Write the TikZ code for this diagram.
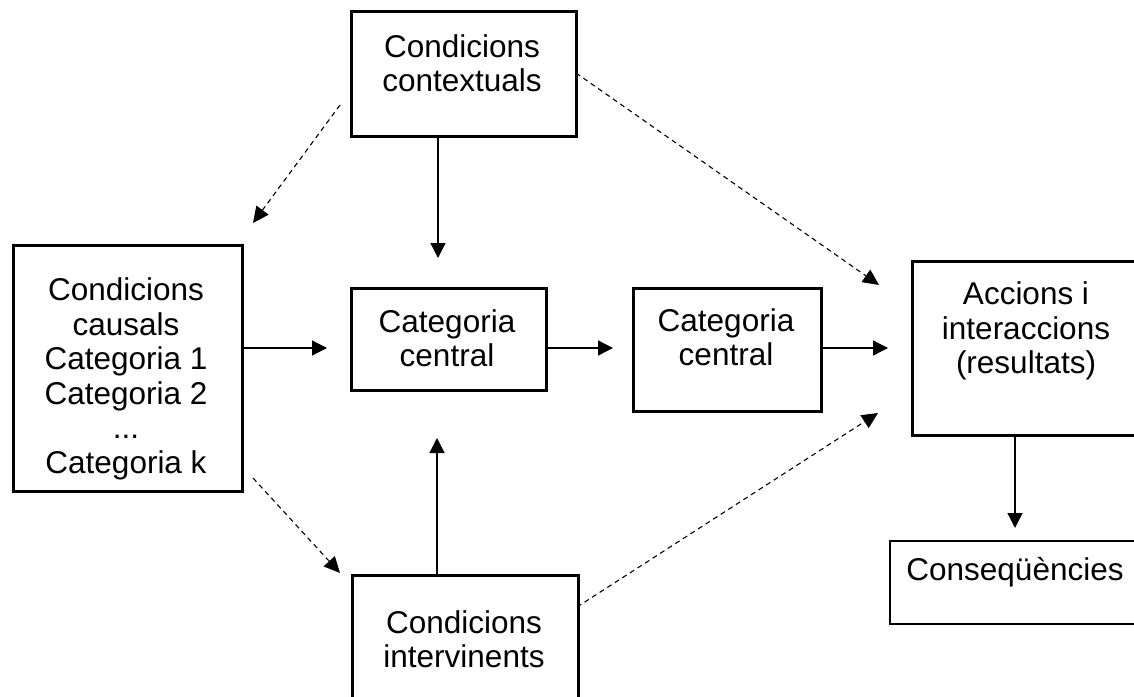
\documentclass[tikz,border=0pt]{standalone}
\usepackage{fontspec}
\setmainfont{Liberation Sans}
\usetikzlibrary{arrows.meta}
\begin{document}
\begin{tikzpicture}[x=1pt,y=-1pt,
  box/.style={draw, line width=2.6pt, inner sep=0pt, anchor=north west},
  thinbox/.style={draw, line width=1.6pt, inner sep=0pt, anchor=north west},
  lbl/.style={align=center, font=\fontsize{31.5}{34.5}\selectfont, inner sep=0pt},
  arr/.style={line width=1.3pt, -{Triangle[length=15pt,width=15pt]}},
  darr/.style={line width=1.1pt, dash pattern=on 5pt off 4pt, -{Triangle[length=16pt,width=15pt]}}]
\useasboundingbox (0,0) rectangle (1134,696);
\clip (0,0) rectangle (1134,696);

% boxes
\node[box, minimum width=225pt, minimum height=125pt] (ctx) at (350,10) {};
\node[box, minimum width=229pt, minimum height=246pt] (cau) at (12,244) {};
\node[box, minimum width=195pt, minimum height=102pt] (cc1) at (350,287) {};
\node[box, minimum width=188pt, minimum height=123pt] (cc2) at (632,287) {};
\node[box, minimum width=230pt, minimum height=174pt] (acc) at (911,260) {};
\node[thinbox, minimum width=252pt, minimum height=83pt] (con) at (889,540) {};
\node[box, minimum width=226pt, minimum height=150pt] (int) at (351,574) {};

% texts
\node[lbl] (tctx) at (462,63) {Condicions\\contextuals};
\node[lbl] (tcau) at (126,379) {Condicions\\causals\\Categoria 1\\Categoria 2\\...\\Categoria k};
\node[lbl] (tcc1) at (447,338) {Categoria\\central};
\node[lbl] (tcc2) at (726,337) {Categoria\\central};
\node[lbl] (tacc) at (1026,331) {Accions i\\interaccions\\(resultats)};
\node[lbl] (tcon) at (1015,572) {Conseqüències};
\node[lbl] (tint) at (464,639) {Condicions\\intervinents};

% arrow ends
\coordinate (e1) at (438,258);
\coordinate (e2) at (437,438);
\coordinate (e3) at (327,348);
\coordinate (e4) at (613,348);
\coordinate (e5) at (888,348);
\coordinate (e6) at (1015,528);
\coordinate (s7) at (340,105);
\coordinate (e7) at (253,223);
\coordinate (s8) at (576,73);
\coordinate (e8) at (879,285);
\coordinate (s9) at (253,478);
\coordinate (e9) at (340,573);
\coordinate (s10) at (577,607);
\coordinate (e10) at (878,413);

% solid connectors
\draw[arr] (ctx.south -| e1) -- (e1);
\draw[arr] (int.north -| e2) -- (e2);
\draw[arr] (cau.east |- e3) -- (e3);
\draw[arr] (cc1.east |- e4) -- (e4);
\draw[arr] (cc2.east |- e5) -- (e5);
\draw[arr] (acc.south -| e6) -- (e6);

% dashed connectors
\draw[darr] (s7) -- (e7);
\draw[darr] (s8) -- (e8);
\draw[darr] (s9) -- (e9);
\draw[darr] (s10) -- (e10);
\end{tikzpicture}
\end{document}
